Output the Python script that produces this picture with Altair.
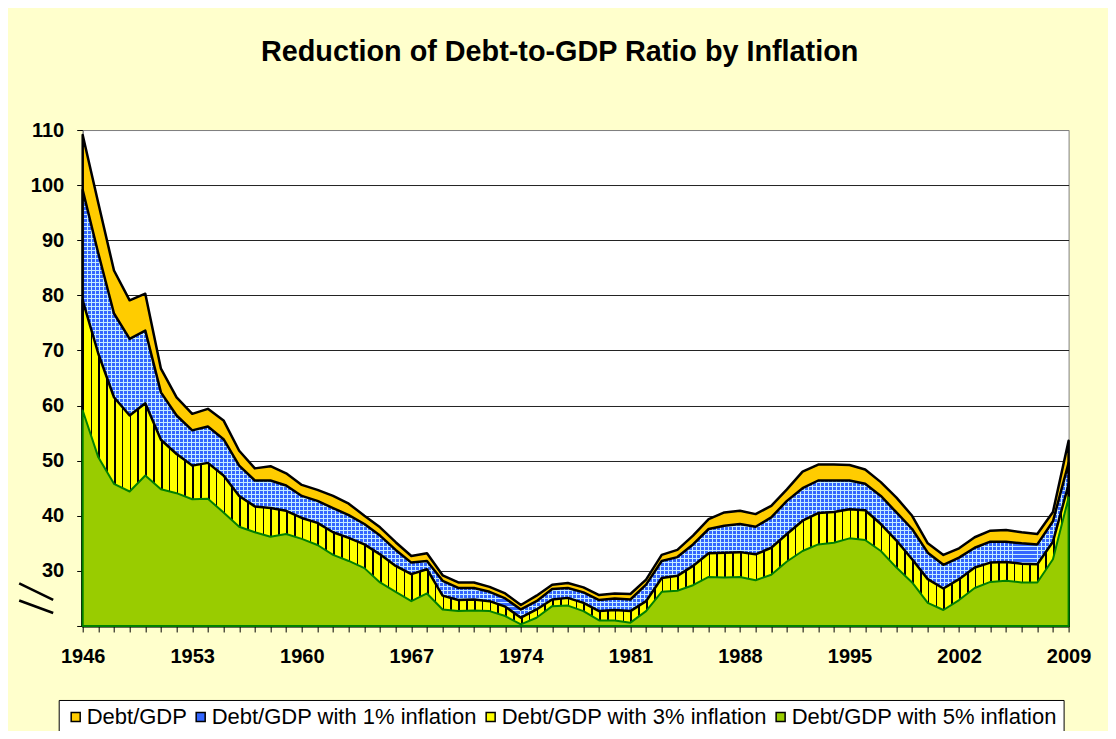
import altair as alt
import pandas as pd

# ---------------- data ----------------
years = list(range(1946, 2010))

debt = [109.1, 96.7, 84.5, 79.1, 80.3, 66.7, 61.5, 58.5, 59.4, 57.3,
        51.8, 48.6, 49.0, 47.7, 45.6, 44.7, 43.6, 42.2, 40.0, 37.9,
        35.2, 32.7, 33.2, 29.2, 27.9, 27.9, 27.1, 25.9, 23.8, 25.5,
        27.5, 27.8, 27.0, 25.6, 25.9, 25.8, 28.4, 32.9, 33.8, 36.4,
        39.4, 40.6, 40.9, 40.3, 41.8, 44.8, 48.0, 49.3, 49.3, 49.2,
        48.4, 46.1, 43.3, 40.0, 35.0, 32.9, 34.1, 36.1, 37.3, 37.4,
        37.0, 36.7, 40.7, 53.6]

infl1 = [99.1, 87.6, 76.7, 72.1, 73.6, 62.4, 58.2, 55.5, 56.2, 53.9,
         49.1, 46.4, 46.4, 45.5, 43.6, 42.7, 41.4, 40.1, 38.5, 36.4,
         33.8, 31.5, 31.8, 28.2, 26.9, 26.9, 26.2, 25.0, 23.0, 24.5,
         26.7, 26.9, 26.1, 24.7, 25.0, 24.8, 27.5, 31.8, 32.5, 34.8,
         37.6, 38.2, 38.5, 38.0, 39.7, 42.7, 45.0, 46.4, 46.4, 46.4,
         45.8, 43.6, 40.6, 37.6, 33.3, 31.1, 32.4, 34.2, 35.3, 35.3,
         35.0, 34.8, 39.0, 49.6]

infl3 = [79.1, 69.4, 61.5, 58.2, 60.4, 53.8, 51.2, 49.1, 49.6, 47.3,
         43.6, 41.7, 41.4, 40.9, 39.6, 38.7, 37.0, 36.0, 34.8, 33.0,
         30.9, 29.4, 30.3, 25.5, 24.7, 24.8, 24.5, 23.5, 21.5, 23.0,
         24.8, 25.1, 24.2, 22.7, 22.9, 22.7, 24.5, 28.7, 29.1, 30.9,
         33.2, 33.3, 33.4, 33.0, 34.2, 36.7, 39.1, 40.5, 40.7, 41.2,
         41.0, 38.5, 35.5, 32.1, 28.5, 26.8, 28.5, 30.6, 31.5, 31.6,
         31.3, 31.2, 35.3, 45.7]

infl5 = [59.1, 50.6, 45.8, 44.4, 47.3, 44.8, 44.1, 43.0, 43.1, 40.6,
         38.0, 37.0, 36.2, 36.7, 35.8, 34.7, 32.9, 31.8, 30.5, 27.9,
         26.2, 24.5, 25.9, 23.0, 22.7, 22.8, 22.7, 21.8, 20.3, 21.5,
         23.6, 23.7, 22.7, 21.0, 21.0, 20.6, 22.7, 26.2, 26.4, 27.4,
         28.9, 28.8, 28.9, 28.3, 29.3, 31.7, 33.6, 34.8, 35.1, 35.9,
         35.6, 33.6, 30.6, 27.9, 24.2, 22.9, 24.7, 26.9, 28.0, 28.2,
         27.9, 27.9, 32.1, 43.3]

series_names = ["Debt/GDP", "Debt/GDP with 1% inflation",
                "Debt/GDP with 3% inflation", "Debt/GDP with 5% inflation"]
series_colors = ["#FFCC00", "#3366FF", "#FFFF00", "#99CC00"]
y_ticks = list(range(20, 111, 10))

df = pd.DataFrame({"year": years, "debt": debt, "i1": infl1, "i3": infl3, "i5": infl5})

# ---------------- layout / style ----------------
W, H = 986, 496
Y_MIN, Y_MAX = 20, 110
PX_PER_UNIT = H / (Y_MAX - Y_MIN)
FONT = "Liberation Sans"


def stripe_gradient(n, duty, bg, fg, vertical_lines=True):
    stops = []
    for k in range(n):
        a = round(k / n, 6)
        b = round((k + duty) / n, 6)
        c = round((k + 1) / n, 6)
        stops += [alt.GradientStop(offset=a, color=fg),
                  alt.GradientStop(offset=b, color=fg),
                  alt.GradientStop(offset=b, color=bg),
                  alt.GradientStop(offset=c, color=bg)]
    if vertical_lines:
        return alt.LinearGradient(gradient="linear", stops=stops, x1=0, x2=1, y1=0, y2=0)
    return alt.LinearGradient(gradient="linear", stops=stops, x1=0, x2=0, y1=0, y2=1)


# yellow with black vertical stripes (about 7.8 px period)
yellow_fill = stripe_gradient(round(W / 7.83), 0.21, "#FFFF00", "#000000")
# blue small grid (4 px period): horizontal lines in base, vertical lines in overlay
blue_h = (max(infl1) - Y_MIN) * PX_PER_UNIT
blue_base = stripe_gradient(round(blue_h / 4), 0.24, "#3366FF", "#C4ECFF", vertical_lines=False)
blue_over = stripe_gradient(round(W / 4), 0.24, "rgba(51,102,255,0)", "#C4ECFF")

x_axis = alt.Axis(values=years, format="d", title=None,
                  labelExpr="(datum.value - 1946) % 7 == 0 ? datum.label : ''",
                  labelOverlap=False, labelFlush=False,
                  labelFont=FONT, labelFontSize=20, labelFontWeight="bold",
                  labelColor="black", labelPadding=15,
                  tickColor="black", tickSize=6, tickWidth=1,
                  domainColor="black", domainWidth=1, grid=False)
y_axis = alt.Axis(values=y_ticks, title=None,
                  labelExpr="datum.value == 20 ? '' : datum.label",
                  labelFont=FONT, labelFontSize=20, labelFontWeight="bold",
                  labelColor="black", labelPadding=13,
                  tickColor="black", tickSize=6, tickWidth=1,
                  domainColor="#808080", domainWidth=1,
                  grid=True, gridWidth=1,
                  gridColor={"condition": {"test": "datum.value == 110", "value": "#808080"},
                             "value": "#222222"})

x_scale = alt.Scale(domain=[1946, 2009], nice=False, zero=False)
y_scale = alt.Scale(domain=[Y_MIN, Y_MAX], nice=False, zero=False)


def xe(field="year"):
    return alt.X(f"{field}:Q", scale=x_scale, axis=x_axis)


def ye(field):
    return alt.Y(f"{field}:Q", scale=y_scale, axis=y_axis)


base = alt.Chart(df)

# legend source (hidden under the green area)
leg_df = pd.DataFrame({"series": series_names, "year": [1960] * 4, "v": [25] * 4})
legend_layer = alt.Chart(leg_df).mark_point(
    shape="square", filled=True, size=64, opacity=1, stroke="black", strokeWidth=1
).encode(
    x=xe(), y=ye("v"),
    color=alt.Color("series:N",
                    scale=alt.Scale(domain=series_names, range=series_colors),
                    legend=alt.Legend(title=None, orient="none", legendX=-24, legendY=570,
                                      direction="horizontal", columns=4,
                                      symbolType="square", symbolSize=81,
                                      symbolStrokeColor="black", symbolStrokeWidth=1.5,
                                      symbolOpacity=1,
                                      labelFont=FONT, labelFontSize=22, labelColor="black",
                                      labelLimit=400, labelOffset=0,
                                      columnPadding=2, padding=6,
                                      fillColor="white", strokeColor="black")))

baseline = alt.datum(Y_MIN)

orange = base.mark_area(fill="#FFCC00", stroke="black", strokeWidth=2.5, strokeJoin="round").encode(
    x=xe(), y=ye("debt"), y2=baseline)
blue1 = base.mark_area(fill=blue_base, strokeWidth=0).encode(x=xe(), y=ye("i1"), y2=baseline)
blue2 = base.mark_area(fill=blue_over, strokeWidth=0).encode(x=xe(), y=ye("i1"), y2=baseline)
blue3 = base.mark_area(fillOpacity=0, stroke="black", strokeWidth=2.5, strokeJoin="round").encode(
    x=xe(), y=ye("i1"), y2=baseline)
yellow = base.mark_area(fill=yellow_fill, stroke="black", strokeWidth=2.5, strokeJoin="round").encode(
    x=xe(), y=ye("i3"), y2=baseline)
green = base.mark_area(fill="#99CC00", stroke="#008000", strokeWidth=2, strokeJoin="round").encode(
    x=xe(), y=ye("i5"), y2=baseline)

one = pd.DataFrame({"k": [0]})
brk1 = alt.Chart(one).mark_rule(color="black", strokeWidth=2.5).encode(
    x=alt.value(-63.5), x2=alt.value(-29.5), y=alt.value(453.5), y2=alt.value(470))
brk2 = alt.Chart(one).mark_rule(color="black", strokeWidth=2.5).encode(
    x=alt.value(-63.5), x2=alt.value(-29.5), y=alt.value(470.5), y2=alt.value(483))

chart = alt.layer(
    legend_layer, orange, blue1, blue2, blue3, yellow, green, brk1, brk2
).properties(
    width=W, height=H,
    padding={"left": 74.7, "top": 122, "right": 39.4, "bottom": 105},
    autosize=alt.AutoSizeParams(type="none"),
    background="#FFFFCC",
    title=alt.TitleParams("Reduction of Debt-to-GDP Ratio by Inflation",
                          font=FONT, fontSize=28.8, fontWeight="bold", color="black",
                          anchor="middle", dx=-16, offset=30, baseline="alphabetic"),
).configure_view(stroke="#808080", strokeWidth=1, fill="white")

chart.save("out.html", embed_options={"renderer": "svg", "actions": False})
